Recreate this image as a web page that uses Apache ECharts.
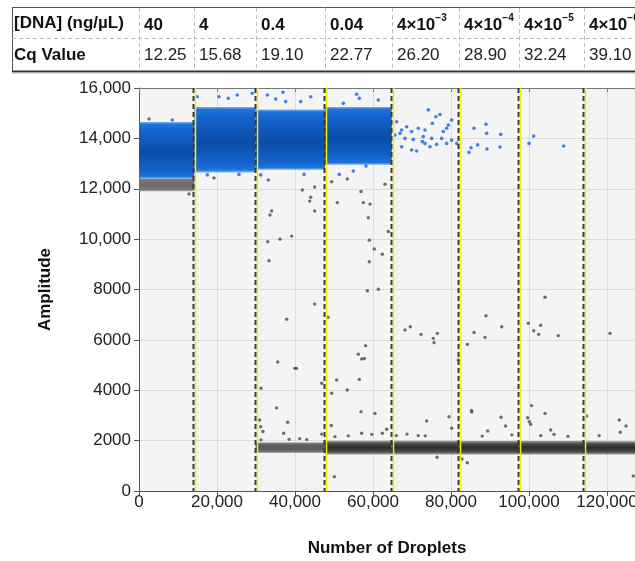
<!DOCTYPE html>
<html><head><meta charset="utf-8">
<script src="https://cdn.jsdelivr.net/npm/echarts@6/dist/echarts.min.js"></script>
<style>html,body{margin:0;padding:0;background:#fff}#c{width:635px;height:561px}</style>
</head><body><div id="c"></div>
<script>
// ---- table data ----
const rowHeaders = ['[DNA] (ng/µL)', 'Cq Value'];
const concLabels = ['40', '4', '0.4', '0.04', '4×10^−3', '4×10^−4', '4×10^−5', '4×10^−6'];
const cqValues = ['12.25', '15.68', '19.10', '22.77', '26.20', '28.90', '32.24', '39.10'];

// ---- wells (droplet index ranges) ----
const wellStart = [0, 14200, 29900, 47700, 64800, 82000, 97400, 114100];
const wellEnd   = [14200, 29900, 47700, 64800, 82000, 97400, 114100, 130000];
const wellBounds = [14200, 29900, 47700, 64800, 82000, 97400, 114100];

// positive (blue) droplet clouds: amplitude range per well
const posLow  = [12400, 12650, 12750, 12950, null, null, null, null];
const posHigh = [14650, 15250, 15150, 15250, null, null, null, null];
// negative (gray) droplet clouds
const negLow  = [11900, null, 1520, 1450, 1450, 1450, 1450, 1450];
const negHigh = [12400, null, 1930, 2000, 2000, 1990, 1990, 1980];

// scattered positive droplets
const blueDots = [
 [2560,14770],[8540,14730],[14950,15650],[20510,15650],[22900,15590],[25200,15720],[29050,15790],
 [32900,15720],[35040,15560],[36920,15830],[37600,15460],[41450,15460],[44020,15650],[55810,15750],
 [56490,15590],[61370,15520],[52380,15390],[17520,12550],[25640,12570],[31200,12550],[42310,12570],
 [51360,12570],[54950,12700],[58200,12900],
 [74180,15130],[77180,14950],[76150,14860],[80170,14730],[75210,14600],[79310,14530],[78890,14400],
 [78030,14270],[73330,14330],[71620,14400],[69910,14270],[68630,14460],[67350,14330],[66070,14660],
 [65640,14130],[68200,14000],[70330,13960],[72900,14070],[73330,13800],[75040,14000],[76320,13760],
 [77610,14000],[78890,13800],[80170,13930],[81460,13800],[69910,13540],[71190,13500],[67350,13670],
 [74610,13670],[66920,14200],[72640,13870],
 [85900,14400],[88970,14560],[89140,14200],[92730,14160],[85130,13630],[84620,13450],[86840,13740],
 [89230,13580],[92560,13660],
 [100000,13800],[101200,14090],[108890,13700]
];
// scattered negative / rain droplets
const grayDots = [
 [12820,11790],[19230,12430],[33160,12350],[34020,11120],[33590,10960],[33000,9900],[36150,10000],
 [39150,10120],[33330,9140],[41880,11950],[45050,12070],[44020,11660],[43760,11510],[45050,11120],
 [49400,12280],[53410,12390],[63080,12180],[56920,11890],[50850,11450],[57520,11450],[59230,11390],
 [58800,10850],[63920,10300],[59060,9960],[60340,9610],[62390,9400],[59060,9100],[58550,7950],
 [61370,8010],[104100,7690],
 [45050,7420],[37860,6820],[35560,5120],[40000,4870],[40400,4870],[31280,4080],[35300,3300],
 [38120,2730],[30940,2820],[31200,2550],[31790,2360],[37090,2290],[48460,6900],[49400,3880],
 [46840,4280],[49320,2600],[46840,2260],
 [58120,5770],[56230,5430],[57090,5240],[57770,5260],[50680,4410],[56490,4430],[53410,4010],
 [56920,3150],[60510,3080],[63510,2450],[62390,2290],[50080,570],
 [68200,6390],[69570,6520],[72300,6220],[75460,6060],[75640,5890],[76490,6260],[73760,2780],
 [79480,2950],[68720,2260],[80170,2490],[76410,1340],[81880,5200],
 [84190,5820],[85900,6290],[88970,6960],[88720,6100],[93000,6520],[85300,3140],[85300,3200],
 [92820,2930],[94010,2580],[89400,2380],[82820,1270],[84190,1120],
 [99820,6660],[101200,6360],[102480,6220],[102990,6580],[107510,6170],[100680,3390],[104100,3080],
 [99650,2910],[100080,2750],[100430,2650],[105560,2420],[106410,2250],
 [120770,6260],[114790,2980],[123160,2820],[124870,2580],[123410,2330],[126740,600],
 [31280,2030],[38500,2050],[41200,2080],[43000,2040],[50250,2160],[53670,2190],[57090,2290],
 [59700,2250],[66000,2200],[71600,2200],[73400,2190],[88000,2180],[95600,2230],[103000,2200],
 [110000,2170],[118000,2200]
];

const xMin = 0, xMax = 127180, xStep = 20000;
const yMin = 0, yMax = 16000, yStep = 2000;

const FONT = 'Liberation Sans, Arial, sans-serif';

function fmtX(v){ return v === 0 ? '0' : v.toLocaleString('en-US'); }
function fmtY(v){ return v >= 10000 ? v.toLocaleString('en-US') : String(v); }

const posBands = [], negBands = [];
for (let i = 0; i < wellStart.length; i++) {
  if (posLow[i] != null) posBands.push([wellStart[i], wellEnd[i], posLow[i], posHigh[i]]);
  if (negLow[i] != null) negBands.push([wellStart[i], wellEnd[i], negLow[i], negHigh[i]]);
}

function bandRenderer(getStops) {
  return function (params, api) {
    const cs = params.coordSys;
    const p0 = api.coord([api.value(0), api.value(3)]);
    const p1 = api.coord([api.value(1), api.value(2)]);
    const shape = echarts.graphic.clipRectByRect(
      {x: p0[0], y: p0[1], width: p1[0] - p0[0], height: p1[1] - p0[1]},
      {x: cs.x, y: cs.y, width: cs.width, height: cs.height});
    if (!shape) return;
    return {type: 'rect', shape: shape,
      style: {fill: new echarts.graphic.LinearGradient(0, 0, 0, 1, getStops(params.dataIndex, api.value(3)))}};
  };
}

const blueStops = () => [
  {offset: 0, color: 'rgba(40,125,225,0.55)'}, {offset: 0.04, color: '#1f74dc'}, {offset: 0.15, color: '#1565d0'},
  {offset: 0.55, color: '#0a4ca6'}, {offset: 0.88, color: '#1565d0'}, {offset: 0.96, color: '#1f74dc'},
  {offset: 1, color: 'rgba(40,125,225,0.55)'}];
const grayStops = (idx, hi) => hi > 10000 ? [
  {offset: 0, color: '#7a7a7a'}, {offset: 0.5, color: '#6a6a6a'}, {offset: 0.85, color: '#7a7a7a'}, {offset: 1, color: 'rgba(120,120,120,0.6)'}]
  : (idx === 1 ? [
  {offset: 0, color: '#8a8a8a'}, {offset: 0.3, color: '#5c5c5c'}, {offset: 0.7, color: '#5c5c5c'}, {offset: 1, color: '#8a8a8a'}]
  : [
  {offset: 0, color: 'rgba(120,120,120,0.7)'}, {offset: 0.22, color: '#464646'}, {offset: 0.5, color: '#2e2e2e'},
  {offset: 0.78, color: '#464646'}, {offset: 1, color: 'rgba(120,120,120,0.7)'}]);

const chart = echarts.init(document.getElementById('c'), null, {renderer: 'canvas'});

const option = {
  animation: false,
  backgroundColor: '#fff',
  grid: {left: 139, right: 0, top: 88, bottom: 70, show: true, backgroundColor: '#f4f4f4', borderWidth: 0,
         containLabel: false, outerBoundsMode: 'none'},
  xAxis: [{
    type: 'value', min: xMin, max: xMax, interval: xStep,
    name: 'Number of Droplets', nameLocation: 'middle', nameGap: 49,
    nameTextStyle: {fontFamily: FONT, fontWeight: 'bold', fontSize: 17, color: '#111'},
    axisLine: {show: true, lineStyle: {color: '#555', width: 1}},
    axisTick: {show: true, length: 5, lineStyle: {color: '#555'}},
    axisLabel: {formatter: fmtX, fontFamily: FONT, fontSize: 17, color: '#222', margin: 3, showMaxLabel: false},
    splitLine: {show: true, lineStyle: {color: '#dcdcdc', width: 1}}
  }, {
    type: 'value', position: 'top', min: xMin, max: xMax, interval: xStep,
    axisLine: {show: true, lineStyle: {color: '#777', width: 1}},
    axisTick: {show: true, inside: true, length: 4, lineStyle: {color: '#777'}},
    axisLabel: {show: false}, splitLine: {show: false}
  }],
  yAxis: {
    type: 'value', min: yMin, max: yMax, interval: yStep,
    name: 'Amplitude', nameLocation: 'middle', nameGap: 85,
    nameTextStyle: {fontFamily: FONT, fontWeight: 'bold', fontSize: 17, color: '#111'},
    axisLine: {show: true, lineStyle: {color: '#555', width: 1}},
    axisTick: {show: true, length: 5, lineStyle: {color: '#555'}},
    axisLabel: {formatter: fmtY, fontFamily: FONT, fontSize: 17, color: '#222', margin: 8},
    splitLine: {show: true, lineStyle: {color: '#dcdcdc', width: 1}}
  },
  series: [
    {type: 'custom', name: 'negBands', renderItem: bandRenderer(grayStops), data: negBands,
     encode: {x: [0, 1], y: [2, 3]}, z: 2, silent: true},
    {type: 'custom', name: 'posBands', renderItem: bandRenderer(blueStops), data: posBands,
     encode: {x: [0, 1], y: [2, 3]}, z: 3, silent: true},
    {type: 'scatter', name: 'gray', data: grayDots, symbol: 'circle', symbolSize: 3.4,
     itemStyle: {color: '#4a4a4a'}, z: 4, silent: true},
    {type: 'scatter', name: 'blue', data: blueDots, symbol: 'circle', symbolSize: 3.6,
     itemStyle: {color: '#1565d8'}, z: 5, silent: true},
    {type: 'custom', name: 'bounds', data: wellBounds.map(v => [v, 0]), encode: {x: 0, y: 1}, z: 6, silent: true,
     renderItem: function (params, api) {
       const cs = params.coordSys;
       const x = Math.round(api.coord([api.value(0), 0])[0]);
       return {type: 'group', children: [
         {type: 'line', shape: {x1: x + 1.5, y1: cs.y, x2: x + 1.5, y2: cs.y + cs.height},
          style: {stroke: '#f2f200', lineWidth: 1.5}},
         {type: 'line', shape: {x1: x - 0.5, y1: cs.y, x2: x - 0.5, y2: cs.y + cs.height},
          style: {stroke: '#3a3a3a', lineWidth: 2, lineDash: [5, 3]}}
       ]};
     }}
  ]
};
chart.setOption(option);

// ---- table above the plot, columns aligned with well boundaries ----
const colX = [0].concat(wellBounds).map(v => chart.convertToPixel({xAxisIndex: 0}, v));
const T = {left: 12, top: 7, mid: 38, bottom: 71, right: 635};
const g = [];
g.push({type: 'line', shape: {x1: T.left, y1: T.top + 0.5, x2: T.right, y2: T.top + 0.5}, style: {stroke: '#555', lineWidth: 1}});
g.push({type: 'line', shape: {x1: T.left, y1: T.bottom + 0.5, x2: T.right, y2: T.bottom + 0.5}, style: {stroke: '#333', lineWidth: 2}});
g.push({type: 'line', shape: {x1: T.left, y1: T.bottom + 2, x2: T.right, y2: T.bottom + 2}, style: {stroke: '#bbb', lineWidth: 1}});
g.push({type: 'line', shape: {x1: T.left + 0.5, y1: T.top, x2: T.left + 0.5, y2: T.bottom}, style: {stroke: '#555', lineWidth: 1}});
g.push({type: 'line', shape: {x1: T.left, y1: T.mid + 0.5, x2: T.right, y2: T.mid + 0.5}, style: {stroke: '#bdbdbd', lineWidth: 1, lineDash: [4, 3]}});
colX.forEach(x => {
  const xx = Math.round(x) + 0.5;
  g.push({type: 'line', shape: {x1: xx, y1: T.top + 1, x2: xx, y2: T.bottom}, style: {stroke: '#bdbdbd', lineWidth: 1, lineDash: [4, 3]}});
});
const rowY = [(T.top + T.mid) / 2 + 1, (T.mid + T.bottom) / 2 + 1];
g.push({type: 'text', x: T.left + 2, y: rowY[0], style: {text: rowHeaders[0], font: 'bold 17px ' + FONT, fill: '#111', verticalAlign: 'middle'}});
g.push({type: 'text', x: T.left + 2, y: rowY[1], style: {text: rowHeaders[1], font: 'bold 17px ' + FONT, fill: '#111', verticalAlign: 'middle'}});
concLabels.forEach((lab, i) => {
  const parts = lab.split('^');
  const txt = parts.length > 1 ? '{b|' + parts[0] + '}{s|' + parts[1] + '}' : '{b|' + lab + '}';
  g.push({type: 'text', x: Math.round(colX[i]) + 5, y: rowY[0], style: {
    text: txt, verticalAlign: 'middle', fill: '#111',
    rich: {b: {fontFamily: FONT, fontWeight: 'bold', fontSize: 17, fill: '#111', lineHeight: 20, verticalAlign: 'bottom'},
           s: {fontFamily: FONT, fontWeight: 'bold', fontSize: 10, fill: '#111', lineHeight: 20, verticalAlign: 'top'}}}});
});
cqValues.forEach((v, i) => {
  g.push({type: 'text', x: Math.round(colX[i]) + 5, y: rowY[1], style: {text: v, font: '17px ' + FONT, fill: '#222', verticalAlign: 'middle'}});
});
chart.setOption({graphic: {elements: g}});
</script>
</body></html>
